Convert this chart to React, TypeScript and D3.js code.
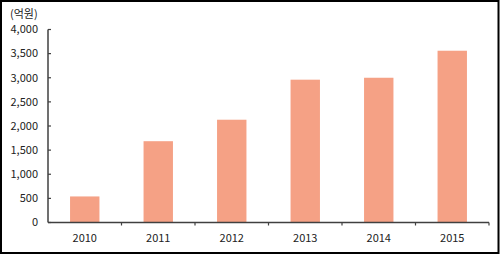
import React from "react";
import * as d3 from "d3";

const years = ["2010", "2011", "2012", "2013", "2014", "2015"];
const values = [540, 1685, 2130, 2960, 3000, 3560];
const yTicks = [0, 500, 1000, 1500, 2000, 2500, 3000, 3500, 4000];
const unitLabel = "(억원)";

export default function App() {
  const W = 500, H = 255;
  const left = 48, right = 489, top = 29.5, bottom = 222.5;
  const x = d3.scaleBand<string>().domain(years).range([left, right]).paddingInner(0.6).paddingOuter(0.3);
  const band = d3.scaleBand<string>().domain(years).range([left, right]);
  const y = d3.scaleLinear().domain([0, 4000]).range([bottom, top]);
  const fmt = d3.format(",");
  const font = "'Noto Sans CJK KR', 'Noto Sans', sans-serif";
  return (
    <svg width={W} height={H} style={{ position: "absolute", left: 0, top: 0, background: "#fff" }}>
      <rect x={1} y={1} width={W - 2.5} height={H - 3} fill="#fff" stroke="#000" strokeWidth={2} />
      {years.map((yr, i) => (
        <rect key={yr} x={x(yr)} y={y(values[i])} width={x.bandwidth()} height={bottom - y(values[i])} fill="#F5A185" />
      ))}
      <line x1={left} x2={left} y1={top} y2={bottom} stroke="#404040" strokeWidth={1.5} />
      <line x1={left} x2={right} y1={bottom} y2={bottom} stroke="#404040" strokeWidth={1.5} />
      {yTicks.map((t) => (
        <g key={t}>
          <line x1={left} x2={left + 3} y1={y(t)} y2={y(t)} stroke="#404040" strokeWidth={1.2} />
          <text x={38} y={y(t)} dy="0.35em" textAnchor="end" fontSize={11} fontFamily={font} fill="#222">{fmt(t)}</text>
        </g>
      ))}
      {years.map((yr) => (
        <line key={"t" + yr} x1={(band(yr) as number) + band.bandwidth()} x2={(band(yr) as number) + band.bandwidth()} y1={bottom} y2={bottom + 3} stroke="#404040" strokeWidth={1.2} />
      ))}
      {years.map((yr) => (
        <text key={"l" + yr} x={(band(yr) as number) + band.bandwidth() / 2} y={238} dy="0.35em" textAnchor="middle" fontSize={11} fontFamily={font} fill="#222">{yr}</text>
      ))}
      <text x={10} y={14} dy="0.35em" fontSize={11} fontFamily={font} fill="#222">{unitLabel}</text>
    </svg>
  );
}
